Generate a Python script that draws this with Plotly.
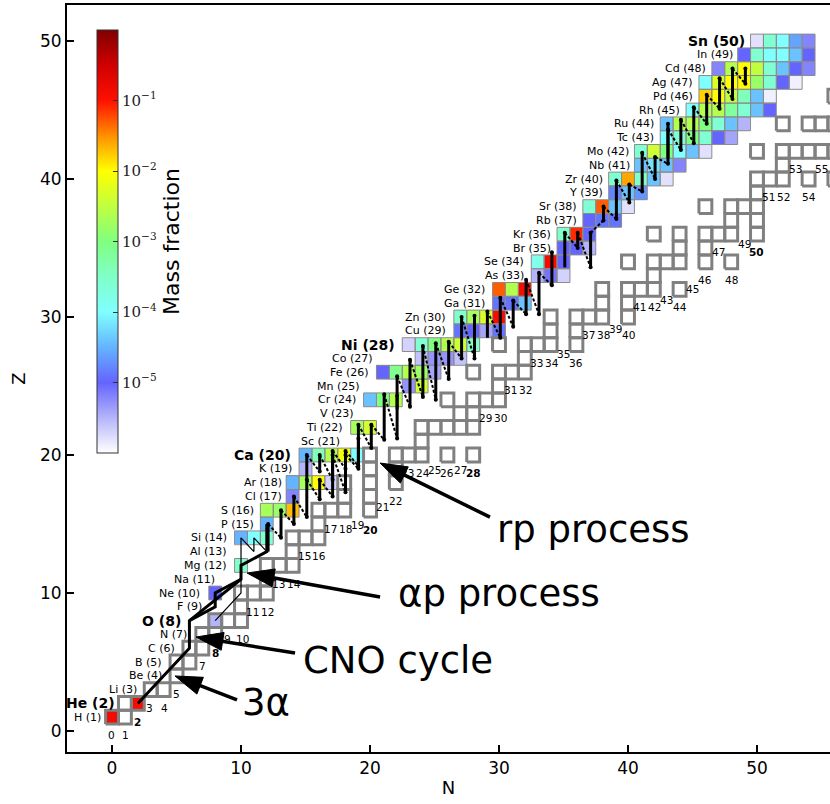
import numpy as np
import plotly.graph_objects as go

# ---------------- data ----------------
# stable nuclides (Z, N)
stable_Z = [1,1, 2,2, 3,3, 4, 5,5, 6,6, 7,7, 8,8,8, 9, 10,10,10, 11, 12,12,12, 13, 14,14,14, 15,
            16,16,16,16, 17,17, 18,18,18, 19,19, 20,20,20,20,20,20, 21, 22,22,22,22,22, 23,23,
            24,24,24,24, 25, 26,26,26,26, 27, 28,28,28,28,28, 29,29, 30,30,30,30,30, 31,31,
            32,32,32,32,32, 33, 34,34,34,34,34,34, 35,35, 36,36,36,36,36,36, 37,37, 38,38,38,38,
            39, 40,40,40,40,40, 41, 42,42,42,42,42,42,42, 44,44,44,44,44,44,44, 45, 46,46,46,46]
stable_N = [0,1, 1,2, 3,4, 5, 5,6, 6,7, 7,8, 8,9,10, 10, 10,11,12, 12, 12,13,14, 14, 14,15,16, 16,
            16,17,18,20, 18,20, 18,20,22, 20,22, 20,22,23,24,26,28, 24, 24,25,26,27,28, 27,28,
            26,28,29,30, 30, 28,30,31,32, 32, 30,32,33,34,36, 34,36, 34,36,37,38,40, 38,40,
            38,40,41,42,44, 42, 40,42,43,44,46,48, 44,46, 42,44,46,47,48,50, 48,50, 46,48,49,50,
            50, 50,51,52,54,56, 52, 50,52,53,54,55,56,58, 52,54,55,56,57,58,60, 58, 56,58,59,60]

# nuclei with final mass fraction (log10)
frac_Z = [1, 2, 8, 10, 12, 14,14,14, 15, 16,16,16, 17, 18,18,18,18, 19, 20,20,20,20,20,
          22,22, 24,24,24, 25,25, 26,26,26,26,26, 27,27,27,27, 28,28,28,28,28,28,
          29,29,29,29, 30,30,30,30, 31,31,31, 32,32,32, 33,33,33, 34,34,34, 35,35,35,
          36,36,36, 37,37,37, 38,38,38,38, 39,39,39, 40,40,40,40,40, 41,41,41,41,
          42,42,42,42,42,42, 43,43,43,43,43,43, 44,44,44,44,44,44,44,
          45,45,45,45,45,45,45, 46,46,46,46,46,46, 47,47,47,47,47,47,47,47,
          48,48,48,48,48,48,48,48, 49,49,49,49,49,49, 50,50,50,50,50]
frac_N = [0, 2, 8, 8, 10, 10,11,12, 12, 12,13,14, 14, 14,15,16,17, 15, 15,16,17,18,19,
          19,20, 20,21,22, 23,24, 21,22,23,24,25, 24,25,26,27, 23,24,25,26,27,28,
          27,28,29,30, 27,28,29,30, 30,31,32, 30,31,32, 33,34,35, 33,34,35, 35,36,37,
          35,36,37, 37,38,39, 37,38,39,40, 39,40,41, 39,40,41,42,43, 41,42,43,44,
          41,42,43,44,45,46, 43,44,45,46,47,48, 43,44,45,46,47,48,49,
          45,46,47,48,49,50,51, 46,47,48,49,50,51, 46,47,48,49,50,51,52,53,
          47,48,49,50,51,52,53,54, 49,50,51,52,53,54, 50,51,52,53,54]
frac_log = [-0.85, -0.9, -5.5, -5.0, -3.5, -4.5,-4.0,-3.6, -4.5, -2.7,-2.8,-1.7, -5.2,
            -4.5,-2.7,-2.0,-5.7, -5.5, -4.5,-3.4,-2.6,-2.1,-4.0,
            -2.7,-2.35, -4.4,-3.0,-2.6, -5.3,-2.4, -5.0,-3.1,-2.6,-2.8,-5.4, -5.6,-5.3,-5.3,-5.6,
            -5.7,-3.6,-3.0,-2.6,-2.4,-3.5,
            -4.9,-5.0,-5.4,-4.9, -3.5,-2.7,-2.3,-0.9, -4.9,-4.9,-4.4, -1.3,-2.6,-0.9,
            -5.5,-5.1,-5.7, -3.8,-0.9,-5.0, -5.0,-5.0,-5.5,
            -3.5,-1.1,-5.0, -5.0,-4.9,-4.9, -3.6,-1.3,-4.4,-5.8, -4.8,-4.4,-4.7,
            -3.6,-1.6,-3.5,-4.4,-5.8, -4.4,-4.2,-4.4,-5.2,
            -3.6,-2.4,-3.0,-4.0,-4.4,-5.8, -4.0,-3.6,-3.0,-3.6,-5.0,-5.4,
            -4.4,-2.6,-2.6,-3.0,-3.6,-4.4,-5.5,
            -4.0,-2.6,-2.6,-3.2,-3.6,-4.4,-5.0, -1.8,-2.0,-2.5,-3.4,-4.4,-5.9,
            -4.0,-2.3,-2.0,-2.0,-2.8,-3.6,-5.0,-5.9,
            -5.2,-2.6,-2.0,-2.5,-3.6,-4.4,-5.0,-5.2, -5.0,-3.6,-4.0,-4.0,-4.4,-5.0,
            -5.8,-3.6,-4.0,-4.6,-5.2]

# element labels (right edge position in N)
elem_names = ["H","He","Li","Be","B","C","N","O","F","Ne","Na","Mg","Al","Si","P","S","Cl","Ar","K","Ca",
              "Sc","Ti","V","Cr","Mn","Fe","Co","Ni","Cu","Zn","Ga","Ge","As","Se","Br","Kr","Rb","Sr","Y","Zr",
              "Nb","Mo","Tc","Ru","Rh","Pd","Ag","Cd","In","Sn"]
elem_label_N = [-0.7, 0.4, 2.1, 4.0, 4.0, 5.06, 6.0, 5.5, 7.1, 7.0, 8.1, 9.1, 9.1, 9.1, 11.2, 11.2, 13.3, 13.3, 14.1, 14.05,
                17.8, 18.06, 18.9, 19.1, 19.4, 20.1, 20.4, 22.07, 26.07, 26.07, 29.05, 29.1, 32.1, 32.1, 34.2, 34.2, 36.2, 36.2, 38.2, 38.2,
                40.3, 40.2, 42.2, 42.2, 44.2, 45.2, 45.2, 46.2, 48.3, 49.2]
magic_Z = [2, 8, 20, 28, 50]

# neutron-number labels (N, vertical position)
nlab_N = [0,1,2,3,4,5,7,8,9,10,11,12,13,14,15,16,17,18,19,20,21,22,23,24,25,26,27,28,29,30,
          31,32,33,34,35,36,37,38,39,40,41,42,43,44,45,46,47,48,49,50,51,52,53,54,55]
nlab_Z = [-0.3,-0.3,0.65,1.67,1.67,2.7,4.7,5.65,6.67,6.67,8.65,8.65,10.65,10.65,12.65,12.65,14.65,14.65,14.95,14.6,
          16.2,16.7,18.7,18.7,18.95,18.7,18.95,18.7,22.68,22.68,24.7,24.7,26.65,26.65,27.3,26.65,28.7,28.7,29.1,28.7,
          30.7,30.7,31.2,30.7,32.0,32.7,34.7,32.7,35.3,34.7,38.7,38.7,40.7,38.7,40.7]
magic_N = [2, 8, 20, 28, 50]

# reaction flow: main path (thick) and branches
path_N = [2, 6, 6, 10, 10, 12, 12]
path_Z = [2, 6, 8, 11, 12, 13, 15]
branch_N = [6, 8, 8, 10]
branch_Z = [8, 9, 10, 11]
thin_N = [8, 10, 10, None, 10, 11, 11, 12]
thin_Z = [8, 10, 14, None, 14, 13, 14, 13]

# rp-process zigzag: band id, N, lower Z, upper Z
zig_band = [0]*8 + [1]*8 + [2]*7 + [3]*6 + [4]*9 + [5]*7
zig_N = [12,13,14,15,16,17,18,19,
         15,16,17,18,19,20,21,22,
         22,23,24,25,26,27,28,
         29,30,31,32,33,34,
         35,36,37,38,39,40,41,42,43,
         43,44,45,46,47,48,49]
zig_lo = [13.0,14.0,15.0,15.5,16.8,17.0,17.3,19.0,
          18.2,18.8,18.2,19.0,19.2,20.5,21.1,21.2,
          23.3,23.5,24.2,24.0,25.5,27.0,27.0,
          28.5,28.5,29.3,30.2,30.2,32.3,
          33.6,35.0,33.6,37.0,37.1,38.3,39.1,40.0,41.1,
          41.5,42.1,42.6,44.0,45.1,45.8,46.9]
zig_hi = [15.0,16.0,17.0,18.2,18.2,20.0,20.0,21.2,
          20.0,20.0,20.3,20.3,22.2,22.2,24.4,24.3,
          25.7,26.9,27.9,28.1,28.2,30.0,30.1,
          30.4,31.4,31.2,32.7,33.2,34.7,
          36.1,36.1,36.1,38.0,39.9,39.6,41.9,41.6,44.0,
          43.6,44.3,45.2,46.1,47.3,48.0,48.0]

# process annotations
proc_text = ["rp process", "αp process", "CNO cycle", "3α"]
proc_text_N = [37.3, 30.0, 22.17, 11.94]
proc_text_Z = [14.57, 9.93, 5.14, 2.1]
proc_tail_N = [29.3, 20.78, 14.19, 9.69]
proc_tail_Z = [15.5, 9.71, 5.65, 2.25]
proc_tip_N = [20.78, 10.47, 6.51, 4.88]
proc_tip_Z = [19.42, 11.45, 6.81, 3.99]

cb_tickvals = [-5, -4, -3, -2, -1]
cb_ticktext = ["10<sup>−5</sup>", "10<sup>−4</sup>", "10<sup>−3</sup>", "10<sup>−2</sup>", "10<sup>−1</sup>"]

# ---------------- figure ----------------
FONT = "DejaVu Sans"
XR = [-3.49, 55.66]
YR = [-1.52, 52.61]
PW, PH = 763, 747
SX = PW / (XR[1] - XR[0])
SY = PH / (YR[1] - YR[0])

colorscale = [
    [0.0, "#ffffff"], [0.0833, "#b4b4fa"], [0.1667, "#6464ff"], [0.25, "#64b4ff"],
    [0.3333, "#80ffff"], [0.4167, "#80ffc8"], [0.5, "#80ff80"], [0.5833, "#c0ff40"],
    [0.6667, "#ffff00"], [0.75, "#ff9000"], [0.8333, "#ff1000"], [0.9167, "#d00000"],
    [1.0, "#800000"]]

gx = np.arange(-1, 58)
gy = np.arange(0, 53)
grid = np.full((len(gy), len(gx)), np.nan)
for z, n, v in zip(frac_Z, frac_N, frac_log):
    grid[z - gy[0], n - gx[0]] = v

fig = go.Figure()
fig.add_trace(go.Heatmap(
    x=gx, y=gy, z=grid, colorscale=colorscale, zmin=-6, zmax=0, hoverinfo="skip",
    colorbar=dict(
        x=(97 - 67) / PW, xanchor="left", xpad=0, y=(752 - 30) / PH, yanchor="top", ypad=0,
        len=(453 - 30) / PH, lenmode="fraction", thickness=21,
        outlinewidth=1, outlinecolor="#333",
        tickvals=cb_tickvals, ticktext=cb_ticktext, ticks="inside", ticklen=5, tickcolor="#333",
        tickfont=dict(family="DejaVu Serif", size=15, color="#222"),
        title=dict(text="Mass fraction", side="right", font=dict(family=FONT, size=22, color="black")),
    )))


def rects(Ns, Zs):
    xs, ys = [], []
    for n, z in zip(Ns, Zs):
        xs += [n - .5, n + .5, n + .5, n - .5, n - .5, None]
        ys += [z - .5, z - .5, z + .5, z + .5, z - .5, None]
    return xs, ys


def line_trace(x, y, width, dash=None, color="black"):
    return go.Scatter(x=x, y=y, mode="lines", line=dict(color=color, width=width, dash=dash),
                      hoverinfo="skip", showlegend=False)


xs, ys = rects(frac_N, frac_Z)
fig.add_trace(line_trace(xs, ys, 1, color="#8c8c8c"))
xs, ys = rects(stable_N, stable_Z)
fig.add_trace(line_trace(xs, ys, 3, color="#808080"))

# reaction paths
fig.add_trace(line_trace(thin_N, thin_Z, 1.2))
fig.add_trace(line_trace(path_N, path_Z, 3))
fig.add_trace(line_trace(branch_N, branch_Z, 3))

# zigzags
vx, vy, dx, dy, mx, my = [], [], [], [], [], []
for i in range(len(zig_N)):
    n = zig_N[i] + 0.1
    vx += [n, n, None]
    vy += [zig_lo[i], zig_hi[i], None]
    mx.append(n); my.append(zig_hi[i])
    if i + 1 < len(zig_N) and zig_band[i + 1] == zig_band[i]:
        n2 = zig_N[i + 1] + 0.1
        dx += [n, n2, None]
        dy += [zig_hi[i], zig_lo[i + 1], None]
        mx.append(n2); my.append(zig_lo[i + 1])
fig.add_trace(line_trace(dx, dy, 2, dash="3px,2px"))
fig.add_trace(line_trace(vx, vy, 3))
fig.add_trace(go.Scatter(x=mx, y=my, mode="markers", marker=dict(color="black", size=4),
                         hoverinfo="skip", showlegend=False))

# process arrows (shaft + filled head), head built in pixel space
HL, HW = 27, 9
for an, az, pn, pz in zip(proc_tail_N, proc_tail_Z, proc_tip_N, proc_tip_Z):
    ux, uy = (pn - an) * SX, (pz - az) * SY
    L = (ux ** 2 + uy ** 2) ** 0.5
    ux, uy = ux / L, uy / L
    bx, by = pn - HL * ux / SX, pz - HL * uy / SY
    px, py = -uy, ux
    fig.add_trace(line_trace([an, bx + 2 * ux / SX], [az, by + 2 * uy / SY], 3.5))
    fig.add_trace(go.Scatter(
        x=[pn, bx + HW * px / SX, bx - HW * px / SX, pn],
        y=[pz, by + HW * py / SY, by - HW * py / SY, pz],
        mode="lines", fill="toself", fillcolor="black", line=dict(color="black", width=1),
        hoverinfo="skip", showlegend=False))

ann = []
for z, name, xn in zip(range(1, 51), elem_names, elem_label_N):
    bold = z in magic_Z
    txt = f"<b>{name} ({z})</b>" if bold else f"{name} ({z})"
    ann.append(dict(x=xn, y=z, text=txt, showarrow=False, xanchor="right", yanchor="middle",
                    font=dict(family=FONT, size=14 if bold else 11, color="black")))
for i, (n, yz) in enumerate(zip(nlab_N, nlab_Z)):
    txt = f"<b>{n}</b>" if n in magic_N else str(n)
    # nudge side-by-side labels apart by a pixel so they touch but do not overlap
    shift = 0
    if i + 1 < len(nlab_N) and nlab_N[i + 1] == n + 1 and abs(nlab_Z[i + 1] - yz) < 0.1:
        shift = -1
    elif i > 0 and nlab_N[i - 1] == n - 1 and abs(nlab_Z[i - 1] - yz) < 0.1:
        shift = 1
    ann.append(dict(x=n, y=yz, text=txt, showarrow=False, xanchor="center", yanchor="middle",
                    xshift=shift, font=dict(family=FONT, size=10.5, color="black")))
for t, tn, tz in zip(proc_text, proc_text_N, proc_text_Z):
    ann.append(dict(x=tn, y=tz, text=t, showarrow=False, xanchor="center", yanchor="middle",
                    font=dict(family=FONT, size=37, color="black")))

fig.update_layout(
    width=830, height=804, margin=dict(l=67, r=0, t=5, b=52),
    paper_bgcolor="white", plot_bgcolor="white", showlegend=False,
    annotations=ann,
    xaxis=dict(range=XR, tickvals=[0, 10, 20, 30, 40, 50], ticks="inside", ticklen=7,
               tickwidth=1.5, tickcolor="black", showline=True, linecolor="black", linewidth=2,
               mirror=True, showgrid=False, zeroline=False,
               tickfont=dict(family=FONT, size=17, color="black"),
               title=dict(text="N", font=dict(family=FONT, size=18, color="black"), standoff=4)),
    yaxis=dict(range=YR, tickvals=[0, 10, 20, 30, 40, 50], ticks="inside", ticklen=7,
               tickwidth=1.5, tickcolor="black", showline=True, linecolor="black", linewidth=2,
               mirror=False, showgrid=False, zeroline=False,
               tickfont=dict(family=FONT, size=17, color="black"),
               title=dict(text="Z", font=dict(family=FONT, size=18, color="black"), standoff=10)),
)
fig.write_html("out.html")
